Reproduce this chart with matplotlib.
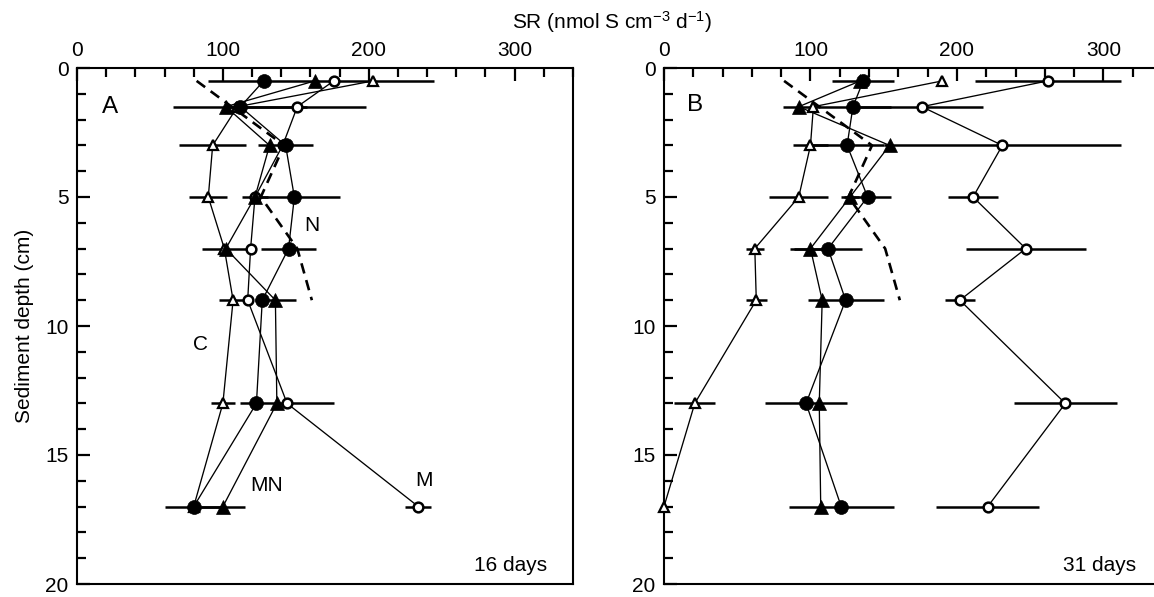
import matplotlib
matplotlib.use("Agg")
import matplotlib.pyplot as plt
from matplotlib.ticker import MultipleLocator

plt.rcParams["font.family"] = ["Liberation Sans", "DejaVu Sans"]
plt.rcParams["mathtext.fontset"] = "custom"
plt.rcParams["mathtext.rm"] = "Liberation Sans"
plt.rcParams["mathtext.it"] = "Liberation Sans:italic"

# sampling depths (cm) shared by every profile
depth = [0.5, 1.5, 3, 5, 7, 9, 13, 17]

# panel A, 16 days: sulfate reduction (nmol S cm-3 d-1) and +/- error
a_fcirc = [128, 112, 143, 149, 145, 127, 123, 80]
a_fcirc_err = [38, 46, 19, 31, 19, 0, 0, 20]
a_ftri = [163, 102, 132, 122, 102, 136, 137, 100]
a_ftri_err = [0, 0, 0, 9, 16, 14, 0, 15]
a_ocirc = [176, 151, 141, 122, 119, 117, 144, 234]
a_ocirc_err = [0, 47, 0, 0, 0, 0, 32, 9]
a_otri = [203, 110, 93, 90, 101, 107, 100, 80]
a_otri_err = [42, 0, 23, 13, 0, 10, 8, 0]

# panel B, 31 days
b_fcirc = [136, 129, 125, 139, 112, 124, 97, 121]
b_fcirc_err = [21, 26, 25, 16, 23, 26, 28, 36]
b_ftri = [134, 92, 154, 127, 100, 108, 106, 107]
b_ftri_err = [0, 11, 0, 6, 14, 0, 0, 0]
b_ocirc = [262, 176, 231, 211, 247, 202, 274, 221]
b_ocirc_err = [50, 42, 81, 17, 41, 10, 35, 35]
b_otri = [190, 102, 100, 92, 62, 63, 21, 0]
b_otri_err = [0, 0, 12, 20, 6, 7, 14, 0]

# reference profile (dashed), upper 9 cm only
ref_depth = [0.5, 1.5, 3, 5, 7, 9]
ref_sr = [82, 106, 142, 126, 151, 161]

# open markers first so the filled ones sit on top where they overlap
STYLES = [
    dict(marker="^", ms=7.5, mfc="white", mec="black", mew=1.6),  # open triangle
    dict(marker="o", ms=7.0, mfc="white", mec="black", mew=1.8),  # open circle
    dict(marker="^", ms=10, mfc="black", mec="black", mew=0.5),   # filled triangle
    dict(marker="o", ms=10, mfc="black", mec="black", mew=0.5),   # filled circle
]

FS = 15


def draw_panel(ax, series, letter, days, letter_xy, notes=()):
    for vals, errs in series:
        for x, y, e in zip(vals, depth, errs):
            if e > 0:
                ax.errorbar(x, y, xerr=e, fmt="none", ecolor="black",
                            elinewidth=1.8, capsize=0, zorder=2)
    ax.plot(ref_sr, ref_depth, color="black", lw=1.9, ls=(0, (4, 2.6)),
            zorder=2.5)
    for vals, _ in series:
        ax.plot(vals, depth, color="black", lw=0.95, zorder=3)
    for i, ((vals, _), st) in enumerate(zip(series, STYLES)):
        ax.plot(vals, depth, ls="none", zorder=4 + i, clip_on=False, **st)

    ax.set_xlim(0, 340)
    ax.set_ylim(20, 0)
    ax.xaxis.set_major_locator(MultipleLocator(100))
    ax.xaxis.set_minor_locator(MultipleLocator(20))
    ax.yaxis.set_major_locator(MultipleLocator(5))
    ax.yaxis.set_minor_locator(MultipleLocator(1))
    ax.xaxis.tick_top()
    ax.tick_params(which="both", direction="in", width=1.6, labelsize=FS,
                   top=True, bottom=False, left=True, right=False)
    ax.tick_params(which="major", length=9.5)
    ax.tick_params(which="minor", length=6.5)
    ax.tick_params(axis="x", pad=6)
    ax.tick_params(axis="y", pad=6)
    for sp in ax.spines.values():
        sp.set_linewidth(1.5)

    ax.text(*letter_xy, letter, fontsize=17.5, ha="center", va="center")
    ax.text(322, 19.3, days, fontsize=FS, ha="right", va="center")
    for x, y, s in notes:
        ax.text(x, y, s, fontsize=FS, ha="center", va="center")


fig = plt.figure(figsize=(11.54, 5.97), dpi=100)
ax_a = fig.add_axes([77 / 1154, 13 / 597, 496 / 1154, 516 / 597])
ax_b = fig.add_axes([664 / 1154, 13 / 597, 498 / 1154, 516 / 597])

draw_panel(ax_a,
           [(a_otri, a_otri_err), (a_ocirc, a_ocirc_err),
            (a_ftri, a_ftri_err), (a_fcirc, a_fcirc_err)],
           "A", "16 days", (22.5, 1.5),
           notes=[(161, 6.1, "N"), (85, 10.7, "C"),
                  (130, 16.2, "MN"), (238, 16.0, "M")])
draw_panel(ax_b,
           [(b_otri, b_otri_err), (b_ocirc, b_ocirc_err),
            (b_ftri, b_ftri_err), (b_fcirc, b_fcirc_err)],
           "B", "31 days", (21, 1.45))
ax_b.spines["right"].set_visible(False)

ax_a.set_ylabel("Sediment depth (cm)", fontsize=FS, labelpad=8)
fig.text(612 / 1154, 1 - 22 / 597, "SR (nmol S cm$^{-3}$ d$^{-1}$)",
         fontsize=FS, ha="center", va="center")

fig.savefig("out.png", dpi=100)
